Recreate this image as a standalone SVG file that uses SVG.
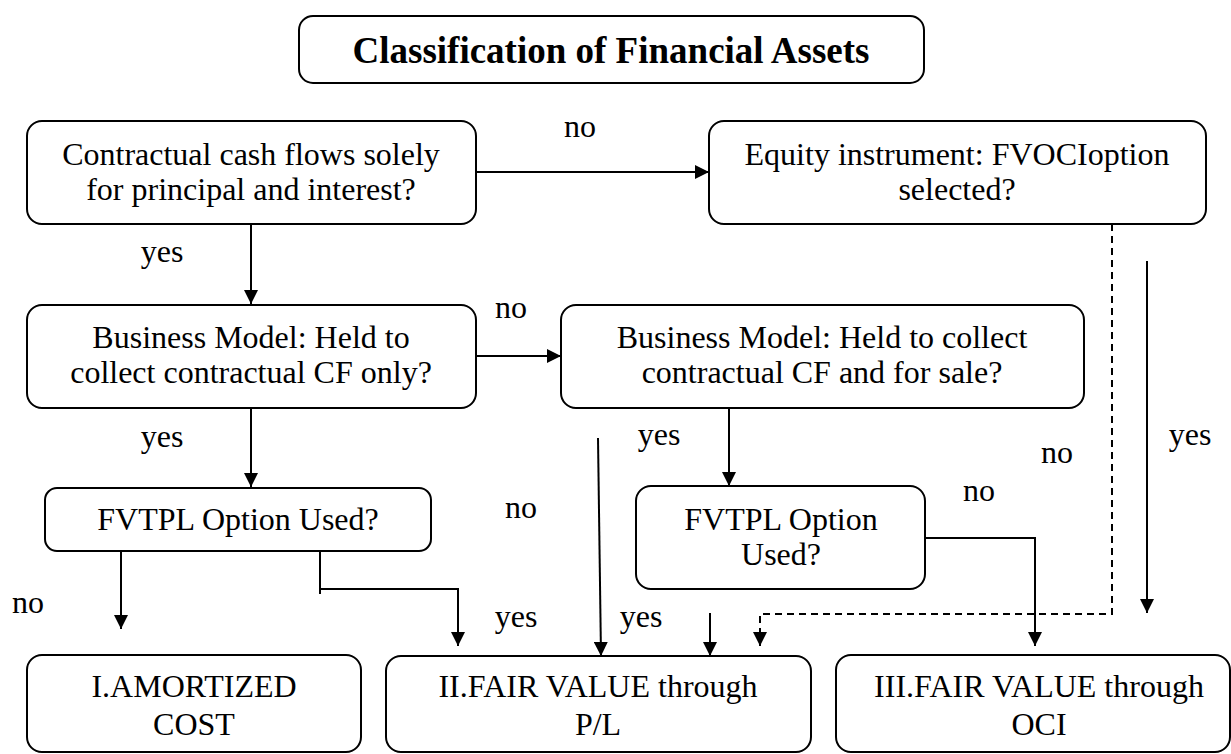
<svg xmlns="http://www.w3.org/2000/svg" width="1231" height="754" viewBox="0 0 1231 754">
<style>
.box{fill:#fff;stroke:#000;stroke-width:2}
.t{font-family:"Liberation Serif","Times New Roman",serif;font-size:32px;fill:#000;text-anchor:middle}
.title{font-family:"Liberation Serif","Times New Roman",serif;font-size:37px;font-weight:bold;fill:#000;text-anchor:middle}
.c{fill:none;stroke:#000;stroke-width:2}
.dash{stroke-dasharray:7,5}
</style>
<defs>
<marker id="arr" viewBox="0 0 14 14" refX="14" refY="7" markerWidth="14" markerHeight="14" markerUnits="userSpaceOnUse" orient="auto">
<path d="M0,0 L14,7 L0,14 z" fill="#000"/>
</marker>
</defs>
<rect width="1231" height="754" fill="#fff"/>
<g id="title">
<rect class="box" x="299" y="16" width="625" height="67" rx="14"/>
<text class="title" x="611" y="63">Classification of Financial Assets</text>
</g>
<g id="n-sppi">
<rect class="box" x="27" y="121" width="449" height="103" rx="15"/>
<text class="t" x="251" y="165">Contractual cash flows solely</text>
<text class="t" x="251" y="200">for principal and interest?</text>
</g>
<g id="n-equity">
<rect class="box" x="709" y="121" width="497" height="103" rx="15"/>
<text class="t" x="957" y="165">Equity instrument: FVOCIoption</text>
<text class="t" x="957" y="200">selected?</text>
</g>
<g id="n-bm1">
<rect class="box" x="27" y="305" width="449" height="103" rx="15"/>
<text class="t" x="251" y="348">Business Model: Held to</text>
<text class="t" x="251" y="383">collect contractual CF only?</text>
</g>
<g id="n-bm2">
<rect class="box" x="561" y="305" width="523" height="103" rx="15"/>
<text class="t" x="822" y="348">Business Model: Held to collect</text>
<text class="t" x="822" y="383">contractual CF and for sale?</text>
</g>
<g id="n-fvtpl1">
<rect class="box" x="45" y="488" width="386" height="63" rx="12"/>
<text class="t" x="238" y="530">FVTPL Option Used?</text>
</g>
<g id="n-fvtpl2">
<rect class="box" x="636" y="486" width="289" height="103" rx="15"/>
<text class="t" x="781" y="530">FVTPL Option</text>
<text class="t" x="781" y="565">Used?</text>
</g>
<g id="n-ac">
<rect class="box" x="27" y="655" width="334" height="97" rx="15"/>
<text class="t" x="194" y="697">I.AMORTIZED</text>
<text class="t" x="194" y="735">COST</text>
</g>
<g id="n-fvpl">
<rect class="box" x="386" y="656" width="425" height="96" rx="15"/>
<text class="t" x="598" y="697">II.FAIR VALUE through</text>
<text class="t" x="598" y="735">P/L</text>
</g>
<g id="n-fvoci">
<rect class="box" x="836" y="655" width="394" height="97" rx="15"/>
<text class="t" x="1039" y="697">III.FAIR VALUE through</text>
<text class="t" x="1039" y="735">OCI</text>
</g>
<g id="connectors">
<path class="c" d="M476,172 H709" marker-end="url(#arr)"/>
<path class="c" d="M251,224 V304" marker-end="url(#arr)"/>
<path class="c" d="M476,356 H561" marker-end="url(#arr)"/>
<path class="c" d="M251,408 V487" marker-end="url(#arr)"/>
<path class="c" d="M729,408 V486" marker-end="url(#arr)"/>
<path class="c" d="M121,551 V629" marker-end="url(#arr)"/>
<path class="c" d="M320,551 V594"/>
<path class="c" d="M320,589 H458 V646" marker-end="url(#arr)"/>
<path class="c" d="M598,438 L601,656" marker-end="url(#arr)"/>
<path class="c" d="M925,538 H1035 V646" marker-end="url(#arr)"/>
<path class="c" d="M710,613 V656" marker-end="url(#arr)"/>
<path class="c dash" d="M1112,224 V614 H760 V646" marker-end="url(#arr)"/>
<path class="c" d="M1147,261 V613" marker-end="url(#arr)"/>
<text class="t" x="580" y="137">no</text>
<text class="t" x="162" y="262">yes</text>
<text class="t" x="511" y="318">no</text>
<text class="t" x="162" y="447">yes</text>
<text class="t" x="659" y="445">yes</text>
<text class="t" x="1190" y="445">yes</text>
<text class="t" x="1057" y="463">no</text>
<text class="t" x="979" y="501">no</text>
<text class="t" x="521" y="518">no</text>
<text class="t" x="28" y="613">no</text>
<text class="t" x="516" y="627">yes</text>
<text class="t" x="641" y="627">yes</text>
</g>
</svg>
